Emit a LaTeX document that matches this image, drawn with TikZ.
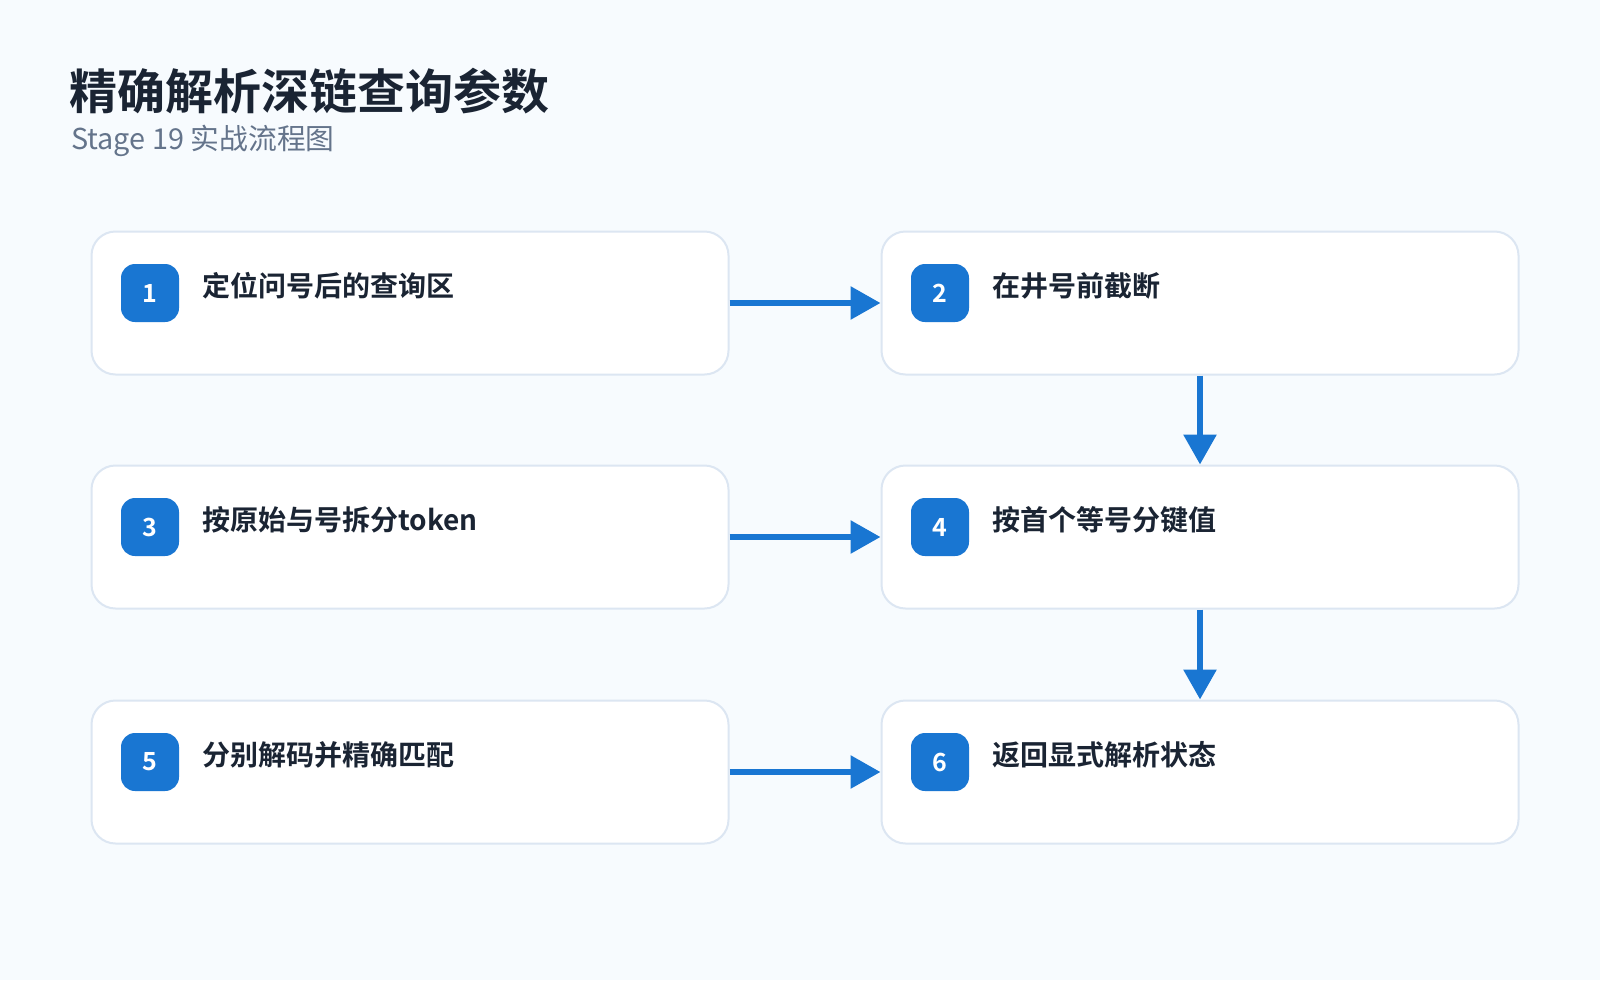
\documentclass[tikz,border=0pt]{standalone}
\usepackage{fontspec}
\setmainfont{Noto Sans CJK SC}
\newfontfamily\cjkb{Noto Sans CJK SC}[BoldFont={* Bold}]
\usetikzlibrary{arrows.meta}
\definecolor{bg}{HTML}{F7FBFE}
\definecolor{bd}{HTML}{DCE6F2}
\definecolor{acc}{HTML}{1976D2}
\definecolor{ink}{HTML}{1A2433}
\definecolor{sub}{HTML}{64748B}
\begin{document}
\begin{tikzpicture}[x=1pt,y=-1pt,
 box/.style={draw=bd,line width=2pt,fill=white,rounded corners=24pt,minimum width=637pt,minimum height=143pt,inner sep=0pt},
 badge/.style={fill=acc,rounded corners=14pt,minimum size=58pt,inner sep=0pt,text=white,font=\cjkb\bfseries\fontsize{25}{25}\selectfont},
 lbl/.style={anchor=west,text=ink,font=\cjkb\bfseries\fontsize{28}{30}\selectfont,inner sep=0pt},
 arr/.style={draw=acc,line width=6pt,-{Triangle[length=30pt,width=32pt]}}]
\fill[bg] (0,0) rectangle (1600,980);
\node[anchor=west,text=ink,font=\cjkb\bfseries\fontsize{48}{50}\selectfont,inner sep=0pt] (title) at (69,91) {精确解析深链查询参数};
\node[anchor=west,text=sub,font=\fontsize{28.8}{30}\selectfont,inner sep=0pt] (subt) at (71,141) {Stage 19 实战流程图};
\foreach \n/\x/\y/\t in {1/410/303/定位问号后的查询区,2/1200/303/在井号前截断,3/410/537/按原始与号拆分token,4/1200/537/按首个等号分键值,5/410/772/分别解码并精确匹配,6/1200/772/返回显式解析状态}{
 \node[box] (b\n) at (\x,\y) {};
 \node[badge] (g\n) at ([xshift=-260pt,yshift=10pt]b\n.center) {\n};
 \node[lbl] (t\n) at ([xshift=-208pt,yshift=17pt]b\n.center) {\t};
}
\draw[arr] (b1.east) -- (b2.west);
\draw[arr] (b3.east) -- (b4.west);
\draw[arr] (b5.east) -- (b6.west);
\draw[arr] (b2.south) -- (b4.north);
\draw[arr] (b4.south) -- (b6.north);
\end{tikzpicture}
\end{document}
